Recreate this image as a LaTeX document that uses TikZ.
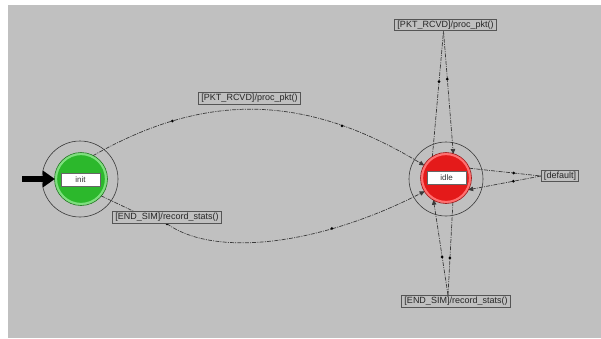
\documentclass[tikz,border=0pt]{standalone}
\usepackage{fontspec}
\setmainfont{Liberation Sans}
\usetikzlibrary{arrows.meta}
\definecolor{bgc}{HTML}{C0C0C0}
\definecolor{edgec}{HTML}{3A3A3A}
\definecolor{grn}{HTML}{2CB82C}
\definecolor{grnrim}{HTML}{7FDF7F}
\definecolor{grnedge}{HTML}{1E7A1E}
\definecolor{rd}{HTML}{E41A1A}
\definecolor{rdrim}{HTML}{FF7070}
\definecolor{rdedge}{HTML}{A01010}
\definecolor{boxc}{HTML}{555555}
\tikzset{
  trans/.style={draw=edgec, line width=0.7pt, dash pattern=on 4pt off 1.2pt on 1pt off 1.2pt},
  tipin/.style={-{Triangle[length=5pt,width=4.5pt]}},
  dotm/.style={circle, fill=black, inner sep=0pt, minimum size=3pt},
  outerring/.style={circle, draw=edgec, line width=0.6pt, minimum size=#1, inner sep=0pt},
  greenstate/.style={circle, fill=grn, draw=grnrim, line width=2.2pt, minimum size=50pt, inner sep=0pt},
  redstate/.style={circle, fill=rd, draw=rdrim, line width=2.2pt, minimum size=48pt, inner sep=0pt},
  stateedge/.style={circle, draw=#1, line width=0.6pt, minimum size=53pt, inner sep=0pt},
  statelabel/.style={rectangle, fill=white, draw=gray!80!black, line width=0.7pt, minimum width=39pt, minimum height=13pt, inner sep=0pt, font=\fontsize{8}{9}\selectfont, text=black!80},
  elabel/.style={rectangle, fill=bgc, draw=boxc, line width=1pt, inner xsep=2.5pt, inner ysep=1.6pt, font=\fontsize{9}{10}\selectfont, text=black!85},
  entryarrow/.style={line width=6pt, -{Triangle[length=12pt,width=16pt]}}
}
\begin{document}
\begin{tikzpicture}[x=1pt,y=-1pt]
\useasboundingbox (0,0) rectangle (601,338);
\fill[white] (0,0) rectangle (601,338);
\fill[bgc] (8,5) rectangle (601,338);

% states (positions)
\node[outerring=76pt] (initO) at (80,179) {};
\node[outerring=74pt] (idleO) at (446,179) {};
\node[greenstate] (init) at (81,179) {};
\node[redstate] (idle) at (446,178) {};

% edge labels
\node[elabel] (pktL) at (249.5,98.5) {[PKT\_RCVD]/proc\_pkt()};
\node[elabel] (endL) at (167,217.5) {[END\_SIM]/record\_stats()};
\node[elabel] (topL) at (445.5,25) {[PKT\_RCVD]/proc\_pkt()};
\node[elabel] (botL) at (456,301.5) {[END\_SIM]/record\_stats()};
\node[elabel] (defL) at (560,176) {[default]};

% transitions
\draw[trans,tipin] (init.63) .. controls (200,95) and (300,90) .. (idle.150)
  node[dotm,pos=0.25]{} node[dotm,pos=0.77]{};
\draw[trans] (init.-40) -- ([xshift=21pt]endL.north west);
\draw[trans,tipin] (endL.south) .. controls (215,258) and (320,245) .. (idle.212)
  node[dotm,pos=0.0]{} node[dotm,pos=0.7]{};
\draw[trans] (idle.123) -- ([xshift=-2pt]topL.south) node[dotm,pos=0.6]{};
\draw[trans,tipin] ([xshift=-2pt]topL.south) -- (idle.73) node[dotm,pos=0.39]{};
\draw[trans] (idle.-74) -- ([xshift=-8pt]botL.north) node[dotm,pos=0.6]{};
\draw[trans,tipin] ([xshift=-8pt]botL.north) -- (idle.-120) node[dotm,pos=0.4]{};
\draw[trans] (idle.23) -- (defL.west) node[dotm,pos=0.62]{};
\draw[trans,tipin] (defL.west) -- (idle.-28) node[dotm,pos=0.38]{};

% redraw states and labels on top
\node[greenstate] at (init) {};
\node[stateedge=grnedge] at (init) {};
\node[redstate] at (idle) {};
\node[stateedge=rdedge, minimum size=51pt] at (idle) {};
\node[statelabel] (initL) at (80.5,179.5) {init};
\node[statelabel] (idleL) at (446.5,178) {idle};
\node[elabel] at (pktL) {[PKT\_RCVD]/proc\_pkt()};
\node[elabel] at (endL) {[END\_SIM]/record\_stats()};
\node[elabel] at (topL) {[PKT\_RCVD]/proc\_pkt()};
\node[elabel] at (botL) {[END\_SIM]/record\_stats()};
\node[elabel] at (defL) {[default]};

% initial arrow
\coordinate (entry) at (22,179);
\draw[entryarrow] (entry) -- (init.west);
\end{tikzpicture}
\end{document}
